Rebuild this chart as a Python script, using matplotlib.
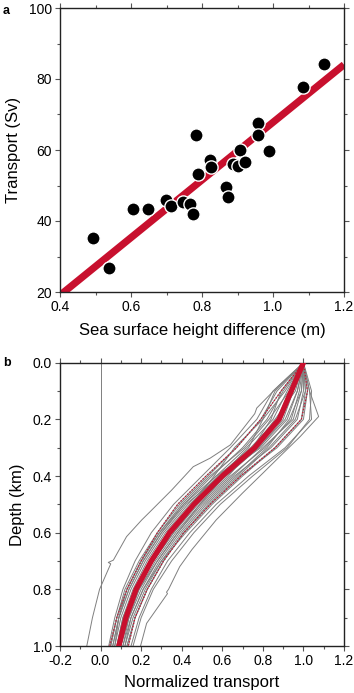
import matplotlib
matplotlib.use("Agg")
import matplotlib.pyplot as plt
import numpy as np
from matplotlib.ticker import MultipleLocator

plt.rcParams['font.family'] = ['Liberation Sans', 'DejaVu Sans']

# panel a: sea surface height difference (m) vs transport (Sv)
ssh_diff = [0.492, 0.539, 0.605, 0.647, 0.698, 0.713, 0.746, 0.766, 0.774, 0.783,
            0.789, 0.823, 0.824, 0.868, 0.874, 0.886, 0.900, 0.907, 0.921, 0.959,
            0.959, 0.988, 1.084, 1.145]
transport = [35.2, 26.8, 43.5, 43.5, 45.8, 44.1, 45.4, 44.9, 42.0, 64.3,
             53.1, 57.3, 55.1, 49.5, 46.8, 56.1, 55.6, 59.9, 56.5, 67.6,
             64.3, 59.6, 77.7, 84.3]
# regression line
fit_slope = 81.2
fit_intercept = -13.4

# panel b: normalized transport profiles vs depth (km)
depth = [0.0, 0.1, 0.2, 0.3, 0.4, 0.5, 0.6, 0.7, 0.8, 0.9, 1.0]
profiles = [
    [1.00, 0.85, 0.77, 0.64, 0.50, 0.36, 0.25, 0.17, 0.11, 0.07, 0.04],
    [1.00, 0.87, 0.79, 0.67, 0.53, 0.39, 0.28, 0.19, 0.12, 0.08, 0.05],
    [1.00, 0.90, 0.82, 0.70, 0.55, 0.41, 0.30, 0.21, 0.14, 0.09, 0.06],
    [1.00, 0.92, 0.85, 0.72, 0.57, 0.43, 0.31, 0.22, 0.15, 0.10, 0.07],
    [1.00, 0.93, 0.87, 0.74, 0.58, 0.44, 0.32, 0.23, 0.16, 0.11, 0.08],
    [1.00, 0.95, 0.89, 0.76, 0.60, 0.46, 0.34, 0.25, 0.17, 0.12, 0.09],
    [1.00, 0.97, 0.91, 0.78, 0.62, 0.47, 0.35, 0.26, 0.18, 0.13, 0.10],
    [1.00, 0.98, 0.94, 0.81, 0.64, 0.49, 0.37, 0.27, 0.19, 0.14, 0.11],
    [1.00, 1.00, 0.97, 0.84, 0.66, 0.51, 0.39, 0.29, 0.21, 0.15, 0.12],
    [1.00, 1.02, 1.00, 0.87, 0.69, 0.54, 0.41, 0.31, 0.23, 0.17, 0.13],
    [1.00, 1.03, 1.04, 0.91, 0.73, 0.57, 0.44, 0.33, 0.25, 0.19, 0.15],
    [1.00, 0.91, 0.80, 0.66, 0.56, 0.45, 0.34, 0.25, 0.17, 0.11, 0.08],
    [1.00, 0.86, 0.80, 0.73, 0.59, 0.47, 0.36, 0.26, 0.18, 0.12, 0.09],
    [1.00, 0.96, 0.86, 0.75, 0.63, 0.48, 0.36, 0.26, 0.18, 0.12, 0.09],
    [1.00, 0.99, 0.95, 0.80, 0.65, 0.50, 0.38, 0.28, 0.20, 0.14, 0.10],
    [1.00, 1.01, 0.99, 0.86, 0.70, 0.55, 0.42, 0.30, 0.21, 0.15, 0.11],
    [1.00, 0.94, 0.88, 0.77, 0.57, 0.41, 0.29, 0.20, 0.13, 0.09, 0.07],
    [1.00, 0.97, 0.92, 0.79, 0.59, 0.42, 0.30, 0.21, 0.14, 0.09, 0.06],
    [1.00, 1.01, 0.96, 0.83, 0.68, 0.53, 0.41, 0.31, 0.23, 0.17, 0.13],
    [1.00, 0.95, 0.90, 0.78, 0.61, 0.45, 0.33, 0.24, 0.17, 0.12, 0.09],
    [1.00, 0.89, 0.84, 0.75, 0.61, 0.49, 0.38, 0.28, 0.19, 0.13, 0.10],
    [1.00, 1.04, 1.03, 0.92, 0.75, 0.59, 0.46, 0.35, 0.26, 0.20, 0.16],
    [1.00, 0.93, 0.83, 0.71, 0.54, 0.40, 0.29, 0.20, 0.13, 0.08, 0.05],
    [1.00, 0.99, 0.93, 0.82, 0.67, 0.52, 0.40, 0.30, 0.22, 0.16, 0.12],
]
left_depth = [0.0, 0.08, 0.16, 0.18, 0.29, 0.337, 0.367, 0.45, 0.526, 0.555,
              0.614, 0.697, 0.705, 0.71, 0.8, 0.9, 1.0]
left_profile = [1.0, 0.88, 0.77, 0.76, 0.64, 0.54, 0.457, 0.35, 0.244, 0.203,
                0.128, 0.063, 0.038, 0.05, -0.005, -0.04, -0.068]
right_depth = [0.0, 0.1, 0.19, 0.26, 0.33, 0.39, 0.46, 0.555, 0.66, 0.72,
               0.8, 0.81, 0.815, 0.92, 1.0]
right_profile = [1.0, 1.03, 1.075, 0.985, 0.885, 0.80, 0.70, 0.57, 0.45, 0.39,
                 0.335, 0.325, 0.33, 0.227, 0.197]
mean_profile = [1.0, 0.94, 0.88, 0.76, 0.60, 0.46, 0.34, 0.25, 0.175, 0.125, 0.09]
lower_profile = [1.0, 0.89, 0.79, 0.67, 0.52, 0.38, 0.28, 0.20, 0.13, 0.08, 0.045]
upper_profile = [1.0, 1.02, 0.99, 0.86, 0.69, 0.54, 0.41, 0.31, 0.23, 0.17, 0.137]

red = '#c8102e'
grey = '#7f7f7f'

fig = plt.figure(figsize=(3.54, 6.93), dpi=100)
ax1 = fig.add_axes([60 / 354, 1 - 292 / 693, 284 / 354, 284 / 693])
ax2 = fig.add_axes([60 / 354, 1 - 646 / 693, 284 / 354, 283.3 / 693])


def style(ax):
    for s in ax.spines.values():
        s.set_linewidth(1.0)
        s.set_color('#222222')
    ax.tick_params(which='both', direction='out', top=True, right=True,
                   color='#555555', labelsize=10, pad=2)
    ax.tick_params(which='major', length=3.6, width=0.8)
    ax.tick_params(which='minor', length=2.2, width=0.8)


# panel a
xl = np.array([0.4, 1.2])
ax1.plot(xl, fit_slope * xl + fit_intercept, color=red, lw=5.2,
         solid_capstyle='butt', zorder=2)
ax1.plot(ssh_diff, transport, 'o', ms=9.5, mfc='black', mec='white', mew=1.0, zorder=3)
ax1.set_xlim(0.4, 1.2)
ax1.set_ylim(20, 100)
ax1.xaxis.set_major_locator(MultipleLocator(0.2))
ax1.xaxis.set_minor_locator(MultipleLocator(0.1))
ax1.yaxis.set_major_locator(MultipleLocator(20))
ax1.yaxis.set_minor_locator(MultipleLocator(10))
ax1.xaxis.set_major_formatter(plt.FuncFormatter(lambda v, p: f'{v:.1f}'))
style(ax1)
ax1.set_xlabel('Sea surface height difference (m)', fontsize=12, labelpad=7)
ax1.set_ylabel('Transport (Sv)', fontsize=12, labelpad=6)
fig.text(3 / 354, 1 - 11 / 693, 'a', fontsize=9, fontweight='bold', va='center', ha='left')

# panel b
ax2.axvline(0.0, color=grey, lw=0.7, zorder=1)
for p in profiles:
    ax2.plot(p, depth, color=grey, lw=0.7, zorder=2)
ax2.plot(left_profile, left_depth, color=grey, lw=0.7, zorder=2)
ax2.plot(right_profile, right_depth, color=grey, lw=0.7, zorder=2)
for p in (lower_profile, upper_profile):
    ax2.plot(p, depth, color=grey, lw=0.7, zorder=3)
    ax2.plot(p, depth, color=red, lw=0.9, ls=(0, (1, 1.5)), zorder=3)
ax2.plot(mean_profile, depth, color=red, lw=3.8, zorder=4)
ax2.set_xlim(-0.2, 1.2)
ax2.set_ylim(1.0, 0.0)
ax2.xaxis.set_major_locator(MultipleLocator(0.2))
ax2.xaxis.set_minor_locator(MultipleLocator(0.1))
ax2.yaxis.set_major_locator(MultipleLocator(0.2))
ax2.yaxis.set_minor_locator(MultipleLocator(0.1))
ax2.xaxis.set_major_formatter(plt.FuncFormatter(lambda v, p: f'{v:.1f}'))
ax2.yaxis.set_major_formatter(plt.FuncFormatter(lambda v, p: f'{v:.1f}'))
style(ax2)
ax2.set_xlabel('Normalized transport', fontsize=12, labelpad=5)
ax2.set_ylabel('Depth (km)', fontsize=12, labelpad=6)
fig.text(3 / 354, 1 - 363 / 693, 'b', fontsize=9, fontweight='bold', va='center', ha='left')

fig.savefig('out.png', dpi=100)
